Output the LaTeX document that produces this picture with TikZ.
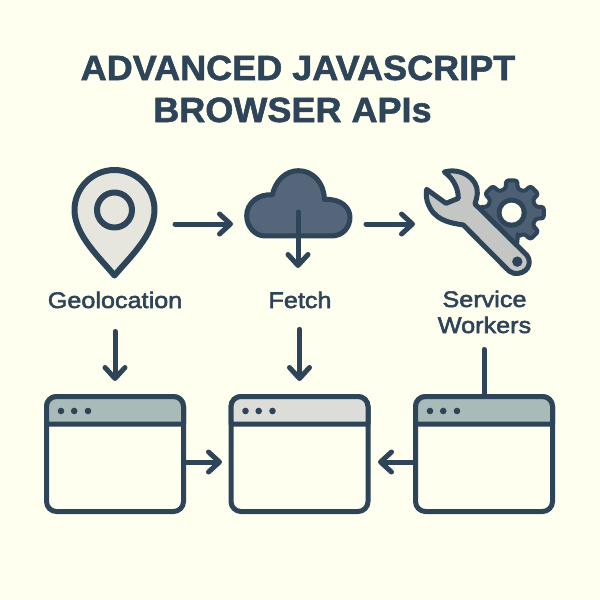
\documentclass[tikz,border=0pt]{standalone}
\usepackage{fontspec}
\setmainfont{Liberation Sans}
\newfontfamily\lblfont[FakeBold=2.4,FakeStretch=1.12]{Liberation Sans}
\newfontfamily\ttlfont[FakeBold=1.5,FakeStretch=1.03]{Liberation Sans Bold}
\usetikzlibrary{arrows.meta,calc}
\definecolor{ink}{HTML}{2D4459}
\definecolor{paper}{HTML}{FFFFF0}
\definecolor{hdrgreen}{HTML}{A9BBB8}
\definecolor{hdrgrey}{HTML}{DCDCD8}
\definecolor{cloudfill}{HTML}{55667A}
\definecolor{gearfill}{HTML}{4D5F72}
\definecolor{wrenchfill}{HTML}{C4C6C4}
\definecolor{pinfill}{HTML}{E6E6DE}
\tikzset{
  wline/.style={draw=ink,line width=5pt,line cap=round,line join=round},
  arr/.style={wline,-{Straight Barb[length=11pt,width=20pt,round]}},
  win/.style={draw=ink,line width=5pt,fill=paper,rounded corners=10pt,minimum width=137pt,minimum height=115pt,outer sep=0pt,inner sep=0pt},
  hdr/.style={draw=ink,line width=5pt,line join=round},
  dot/.style={fill=ink},
  titletext/.style={anchor=base,inner sep=0pt,text=ink,font=\fontsize{35}{40}\selectfont\ttlfont},
  lbl/.style={anchor=base,inner sep=0pt,text=ink,font=\fontsize{22.5}{26}\selectfont\lblfont},
}
\begin{document}
\begin{tikzpicture}[x=1pt,y=-1pt]
\path[use as bounding box,fill=paper] (0,0) rectangle (600,600);

% title
\node[titletext] (t1) at (298,80) {ADVANCED JAVASCRIPT};
\node[titletext] (t2) at (292.5,122) {BROWSER APIs};

% pin
\draw[wline,line width=6pt,fill=pinfill] (74.5,210)
  .. controls (74.5,188) and (92.5,170) .. (114.5,170)
  .. controls (136.5,170) and (154.5,188) .. (154.5,210)
  .. controls (154.5,235) and (129,258) .. (114.5,275.5)
  .. controls (100,258) and (74.5,235) .. (74.5,210) -- cycle;
\draw[wline,line width=6pt] (114.5,210) circle[radius=17.5pt];

% cloud
\begin{scope}[shift={(235,160)},x=0.3333pt,y=-0.3333pt]
\draw[wline,fill=cloudfill] (90,228) -- (290,228)
  .. controls (325,228) and (345,200) .. (345,172)
  .. controls (345,142) and (318,116) .. (268,118)
  .. controls (268,70) and (235,32) .. (190,32)
  .. controls (150,32) and (120,65) .. (112,105)
  .. controls (70,100) and (35,130) .. (35,167)
  .. controls (35,200) and (60,228) .. (90,228) -- cycle;
\end{scope}

% gear and wrench
\begin{scope}[shift={(340,150)},x=0.3333pt,y=-0.3333pt]
\begin{scope}[shift={(515,188)}]
\draw[draw=ink,line width=4pt,line join=round,fill=gearfill,rounded corners=2.5pt]
  (76:74)
  \foreach \a in {0,45,...,315} {
    -- ({\a+90-14}:74) -- ({\a+90-10}:98) -- ({\a+90+10}:98) -- ({\a+90+14}:74)
  } -- cycle;
\fill[ink] (0,0) circle[radius=15pt];
\fill[paper] (0,0) circle[radius=10pt];
\end{scope}
\draw[wline,fill=wrenchfill] (313,66)
  .. controls (362,52) and (415,85) .. (412,130)
  .. controls (411,142) and (408,152) .. (405,162)
  -- (560,315)
  .. controls (580,340) and (560,375) .. (522,370)
  .. controls (512,368) and (506,362) .. (500,356)
  -- (370,225)
  .. controls (325,218) and (280,210) .. (262,155)
  .. controls (258,140) and (258,128) .. (260,118)
  -- (318,160)
  -- (355,145)
  .. controls (355,115) and (340,85) .. (313,66) -- cycle;
\fill[ink] (532,335) circle[radius=5.2pt];
\end{scope}

% labels
\node[lbl] (geo) at (115,308) {Geolocation};
\node[lbl] (fet) at (300,308) {Fetch};
\node[lbl] (svc) at (484.5,307) {Service};
\node[lbl] (wrk) at (484.5,333) {Workers};

% windows
\node[win] (win1) at (115,454) {};
\node[win] (win2) at (299.5,454) {};
\node[win] (win3) at (484,454) {};
\foreach \w/\c in {win1/hdrgreen,win2/hdrgrey,win3/hdrgreen} {
  \begin{scope}[shift={(\w.center)}]
    \draw[hdr,fill=\c] (-68.5,-30) -- (-68.5,-47.5)
      .. controls (-68.5,-53) and (-64,-57.5) .. (-58.5,-57.5)
      -- (58.5,-57.5)
      .. controls (64,-57.5) and (68.5,-53) .. (68.5,-47.5)
      -- (68.5,-30) -- cycle;
    \foreach \dx in {-54,-40.8,-27} {
      \fill[dot] (\dx,-43) circle[radius=3.3pt];
    }
  \end{scope}
}

% connectors
\coordinate (pinE) at (175,224);
\coordinate (cloudW) at (233,224);
\coordinate (cloudE) at (366,224);
\coordinate (toolW) at (415,224);
\coordinate (cloudIn) at (298,212);
\coordinate (cloudOut) at (298,268);
\draw[arr] (pinE) -- (cloudW);
\draw[arr] (cloudE) -- (toolW);
\draw[arr] (cloudIn) -- (cloudOut);
\draw[arr,shorten <=23pt,shorten >=15.5pt] (win1.north |- geo.south) -- (win1.north);
\draw[arr,shorten <=21pt,shorten >=15.5pt] (win2.north |- fet.south) -- (win2.north);
\draw[wline,shorten <=16pt] (win3.north |- wrk.south) -- (win3.north);
\coordinate (w1e) at (win1.east |- 0,462);
\coordinate (w2w) at (win2.west |- 0,462);
\coordinate (w3w) at (win3.west |- 0,462);
\coordinate (w2e) at (win2.east |- 0,462);
\draw[arr,shorten >=9pt] (w1e) -- (w2w);
\draw[arr,shorten >=10pt] (w3w) -- (w2e);
\end{tikzpicture}
\end{document}
